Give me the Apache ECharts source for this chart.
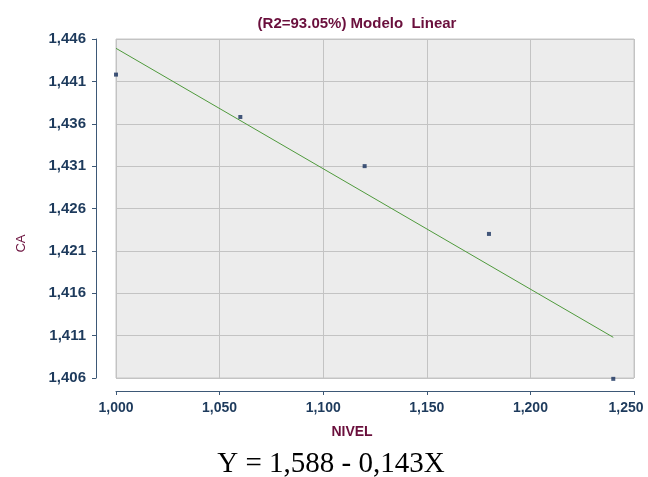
<!DOCTYPE html>
<html>
<head>
<meta charset="utf-8">
<script src="https://cdn.jsdelivr.net/npm/echarts@6/dist/echarts.min.js"></script>
<style>html,body{margin:0;padding:0;background:#fff}#c{width:648px;height:477px}</style>
</head>
<body>
<div id="c"></div>
<script>
const titleText = '(R2=93.05%) Modelo  Linear';
const equationText = 'Y = 1,588 - 0,143X';
const xName = 'NIVEL';
const yName = 'CA';
const nivel = [1.00, 1.06, 1.12, 1.18, 1.24];
const ca = [1.4418, 1.4368, 1.4310, 1.4230, 1.4059];
const fitX = [1.00, 1.24];
const fitY = [1.4449, 1.4108];
const xTicks = [1.000, 1.050, 1.100, 1.150, 1.200, 1.250];
const yTicks = [1.406, 1.411, 1.416, 1.421, 1.426, 1.431, 1.436, 1.441, 1.446];

const fmt = v => Number(v).toFixed(3).replace('.', ',');
const axisColor = '#3d5876';
const labelColor = '#1d3a5c';
const maroon = '#6a0f3c';
const font = '"Liberation Sans", Arial, sans-serif';
const xMax = xTicks[xTicks.length - 1];

const chart = echarts.init(document.getElementById('c'), null, {renderer: 'canvas'});
chart.setOption({
  backgroundColor: '#ffffff',
  animation: false,
  title: [
    {text: titleText, left: 352, top: 11, textAlign: 'center',
     textStyle: {fontFamily: font, fontWeight: 'bold', fontSize: 15, color: maroon}},
    {text: equationText, left: 326, top: 445, textAlign: 'center',
     textStyle: {fontFamily: '"Liberation Serif", "Times New Roman", serif', fontWeight: 'normal', fontSize: 29, color: '#000'}}
  ],
  grid: {left: 116, right: 14, top: 39, bottom: 99, show: true, outerBoundsMode: 'none', containLabel: false,
         backgroundColor: '#ececec', borderColor: '#c6c6c6', borderWidth: 1},
  xAxis: {
    type: 'value', min: xTicks[0], max: xMax, interval: 0.05,
    offset: 13,
    name: xName, nameLocation: 'middle', nameGap: 34,
    nameTextStyle: {fontFamily: font, fontWeight: 'bold', fontSize: 14, color: maroon, padding: [0, 46, 0, 0]},
    axisLine: {show: true, lineStyle: {color: axisColor, width: 1}},
    axisTick: {show: true, length: 4, lineStyle: {color: axisColor}},
    axisLabel: {
      formatter: v => Math.abs(v - xMax) < 1e-9 ? '{last|' + fmt(v) + '}' : fmt(v),
      margin: 10, fontFamily: font, fontWeight: 'bold', fontSize: 14, color: labelColor,
      rich: {last: {fontFamily: font, fontWeight: 'bold', fontSize: 14, color: labelColor, padding: [0, 16, 0, 0]}}
    },
    splitLine: {show: true, lineStyle: {color: '#c3c3c3', width: 1}}
  },
  yAxis: {
    type: 'value', min: yTicks[0], max: yTicks[yTicks.length - 1],
    offset: 20,
    name: yName, nameLocation: 'middle', nameGap: 68,
    nameTextStyle: {fontFamily: font, fontWeight: 'normal', fontSize: 13, color: maroon, padding: [0, 70, 0, 0]},
    axisLine: {show: true, lineStyle: {color: axisColor, width: 1}},
    axisTick: {show: true, length: 4, customValues: yTicks, lineStyle: {color: axisColor}},
    axisLabel: {customValues: yTicks, formatter: fmt, margin: 10, fontFamily: font, fontWeight: 'bold', fontSize: 15, color: labelColor},
    splitLine: {show: true, lineStyle: {color: '#c3c3c3', width: 1}}
  },
  series: [
    {type: 'line', data: fitX.map((x, i) => [x, fitY[i]]), symbol: 'none',
     lineStyle: {color: '#4f9a3c', width: 1}, silent: true, z: 2},
    {type: 'scatter', data: nivel.map((x, i) => [x, ca[i]]), symbol: 'rect', symbolSize: 4, clip: false,
     itemStyle: {color: '#16305c'}, z: 3}
  ]
});
</script>
</body>
</html>
